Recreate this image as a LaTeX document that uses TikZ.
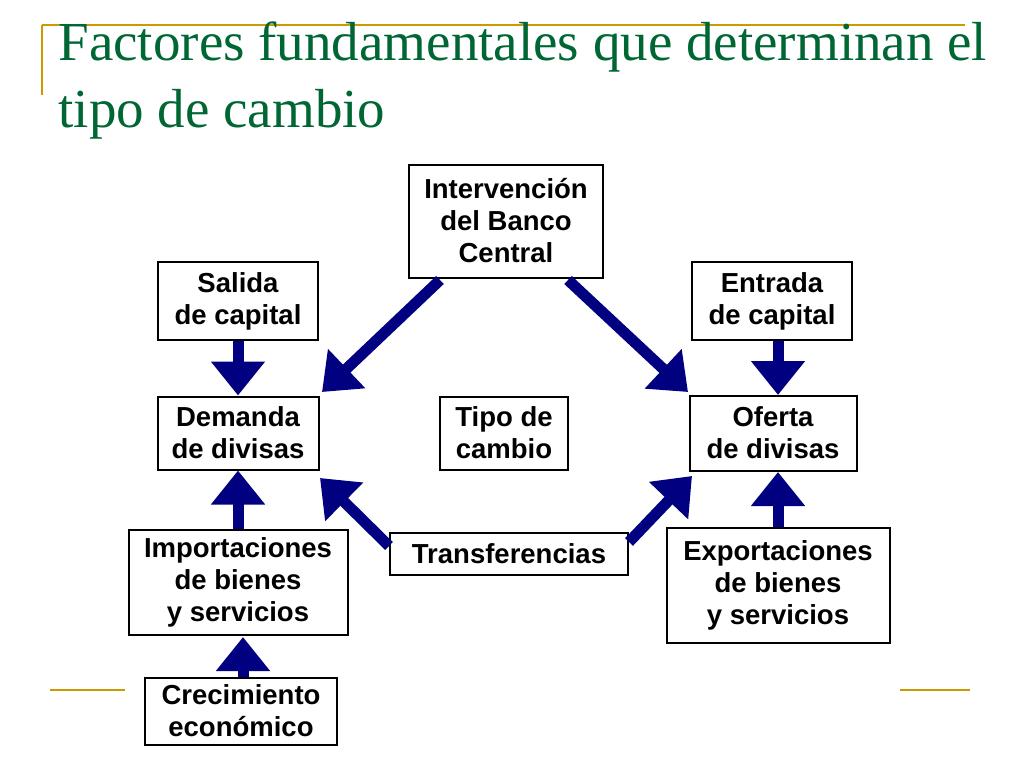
\documentclass[tikz,border=0pt]{standalone}
\usepackage{fontspec}
\setmainfont{Liberation Serif}
\newfontfamily\boxfont{Liberation Sans}
\usetikzlibrary{arrows.meta}
\definecolor{navy}{RGB}{0,0,128}
\definecolor{ttl}{RGB}{0,102,51}
\definecolor{gold}{RGB}{204,153,0}
\begin{document}
\begin{tikzpicture}[x=1pt,y=-1pt,
  bx/.style={draw=black,line width=2pt,fill=white,inner sep=0pt,align=center,font=\boxfont\bfseries\fontsize{27.5}{32}\selectfont},
  arr/.style={navy,line width=11pt,-{Triangle[width=52pt,length=34pt]}}]
\useasboundingbox (0,0) rectangle (1024,768);
\draw[gold,line width=1.5pt] (42,25) -- (42,95) (42,25) -- (965,25);
\draw[gold,line width=1.5pt] (50,690) -- (125,690) (900,690) -- (970,690);
\node[anchor=base west,text=ttl,font=\fontsize{55}{60}\selectfont] (t1) at (55,60) {Factores fundamentales que determinan el};
\node[anchor=base west,text=ttl,font=\fontsize{55}{60}\selectfont] (t2) at (55,127) {tipo de cambio};
\node[bx,minimum width=194pt,minimum height=113pt] (bc) at (506,221) {Intervención\\del Banco\\Central};
\node[bx,minimum width=160pt,minimum height=78pt] (sal) at (238,301) {Salida\\de capital};
\node[bx,minimum width=160pt,minimum height=78pt] (ent) at (772,301) {Entrada\\de capital};
\node[bx,minimum width=161pt,minimum height=73pt] (dem) at (238,433) {Demanda\\de divisas};
\node[bx,minimum width=128pt,minimum height=73pt] (tc) at (504,433) {Tipo de\\cambio};
\node[bx,minimum width=167pt,minimum height=75pt] (of) at (773,433) {Oferta\\de divisas};
\node[bx,minimum width=219pt,minimum height=105pt] (imp) at (238,582) {Importaciones\\de bienes\\y servicios};
\node[bx,minimum width=238pt,minimum height=42pt] (tr) at (509,554) {Transferencias};
\node[bx,minimum width=223pt,minimum height=115pt] (exp) at (778,585) {Exportaciones\\de bienes\\y servicios};
\node[bx,minimum width=192pt,minimum height=67pt] (cre) at (241,711) {Crecimiento\\económico};
\draw[arr] (sal.south) -- (dem.north);
\draw[arr] (ent.south -| 778,0) -- (778,395);
\draw[arr] (imp.north) -- (dem.south);
\draw[arr] (cre.north -| 243,0) -- (243,637);
\draw[arr] (exp.north) -- (778,472);
\draw[arr] (440,280) -- (322,392);
\draw[arr] (568,280) -- (688,392);
\draw[arr] (tr.west) ++(0,-8) -- (320,478);
\draw[arr] (tr.east) ++(0,-12) -- (692,476);
\end{tikzpicture}
\end{document}
